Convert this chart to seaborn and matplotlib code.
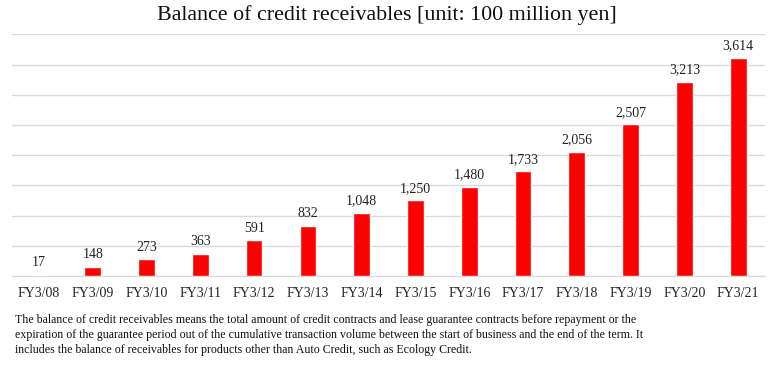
import pandas as pd
import matplotlib.pyplot as plt
import seaborn as sns

# Data
years = ['FY3/08', 'FY3/09', 'FY3/10', 'FY3/11', 'FY3/12', 'FY3/13', 'FY3/14',
         'FY3/15', 'FY3/16', 'FY3/17', 'FY3/18', 'FY3/19', 'FY3/20', 'FY3/21']
balance = [17, 148, 273, 363, 591, 832, 1048, 1250, 1480, 1733, 2056, 2507, 3213, 3614]

title = 'Balance of credit receivables [unit: 100 million yen]'
note = ('The balance of credit receivables means the total amount of credit contracts and lease guarantee contracts before repayment or the\n'
        'expiration of the guarantee period out of the cumulative transaction volume between the start of business and the end of the term. It\n'
        'includes the balance of receivables for products other than Auto Credit, such as Ecology Credit.')

df = pd.DataFrame({'year': years, 'balance': balance})

sns.set_style('white')
plt.rcParams['font.family'] = ['Liberation Serif', 'DejaVu Serif']

fig = plt.figure(figsize=(7.74, 3.65), dpi=100)
ax = fig.add_axes([0.0155, 0.244, 0.973, 0.662])

sns.barplot(data=df, x='year', y='balance', color='#ff0000', saturation=1,
            width=0.31, ax=ax, zorder=3)

# Value labels over the bars
for i, v in enumerate(balance):
    ax.annotate(f'{v:,}', (i, v), xytext=(0, 4), textcoords='offset points',
                ha='center', va='bottom', fontsize=10, color='#222222')

ax.set_ylim(0, 4000)
ax.set_xlim(-0.5, len(years) - 0.5)
ax.set_yticks(range(0, 4001, 500))
ax.set_yticklabels([])
ax.yaxis.grid(True, color='#d9d9d9', linewidth=1, zorder=0)
ax.tick_params(axis='x', length=0, labelsize=10, pad=8, colors='#222222')
ax.tick_params(axis='y', length=0)
ax.set_xlabel('')
ax.set_ylabel('')
for s in ['top', 'right', 'left']:
    ax.spines[s].set_visible(False)
ax.spines['bottom'].set_color('#d9d9d9')

fig.text(0.5, 0.96, title, ha='center', va='center', fontsize=15.8, color='#111111')
fig.text(0.019, 0.082, note, ha='left', va='center', fontsize=8.6,
         linespacing=1.3, color='#111111')

plt.savefig('out.png', dpi=100)
plt.clf()
